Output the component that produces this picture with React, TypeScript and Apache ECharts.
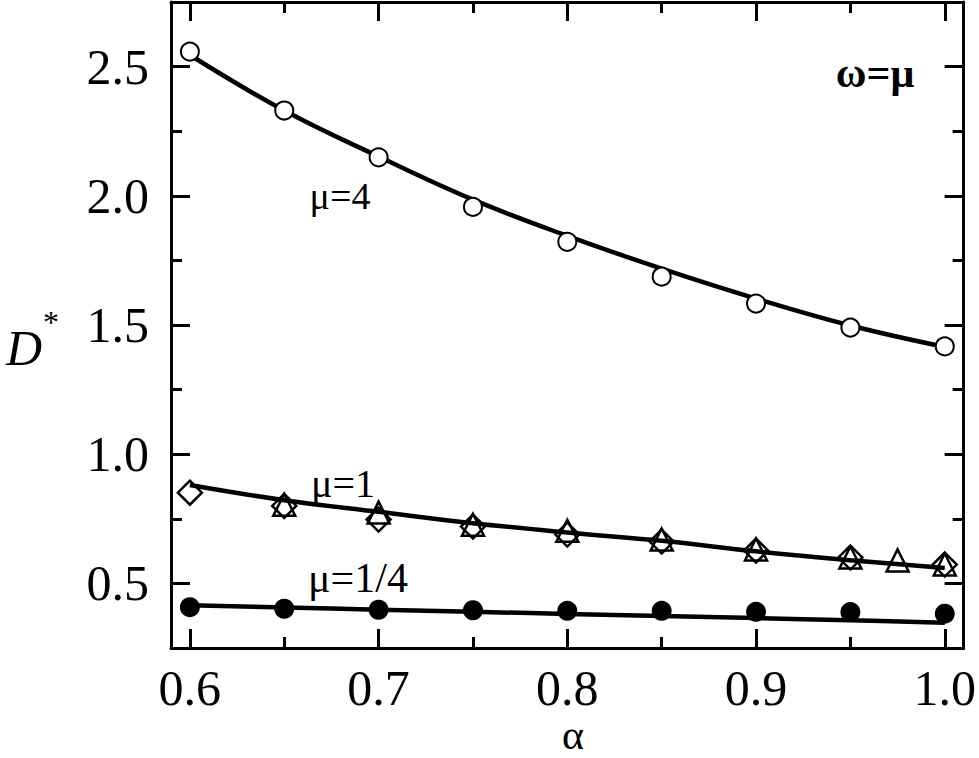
import React, { useEffect, useRef } from "react";
import * as echarts from "echarts";

const alpha = [0.6, 0.65, 0.7, 0.75, 0.8, 0.85, 0.9, 0.95, 1.0];

// mu = 4
const mu4Line = [2.545, 2.33, 2.152, 1.985, 1.845, 1.718, 1.602, 1.498, 1.415];
const mu4Pts = [2.558, 2.33, 2.149, 1.957, 1.822, 1.687, 1.583, 1.49, 1.417];

// mu = 1
const mu1Line = [0.881, 0.822, 0.777, 0.733, 0.697, 0.665, 0.624, 0.59, 0.56];
const mu1Diamond = [0.851, 0.8, 0.747, 0.72, 0.689, 0.662, 0.627, 0.6, 0.573];
const triAlpha = [0.65, 0.7, 0.75, 0.8, 0.85, 0.9, 0.95, 0.975, 1.0];
const mu1Triangle = [0.804, 0.774, 0.727, 0.704, 0.67, 0.631, 0.6, 0.589, 0.573];

// mu = 1/4
const mu14Line = [0.415, 0.407, 0.398, 0.39, 0.382, 0.374, 0.366, 0.357, 0.348];
const mu14Pts = [0.408, 0.402, 0.398, 0.396, 0.394, 0.394, 0.39, 0.389, 0.383];

const xMajor = [0.6, 0.7, 0.8, 0.9, 1.0];
const xMinor = [0.65, 0.75, 0.85, 0.95];
const yMajor = [0.5, 1.0, 1.5, 2.0, 2.5];
const yMinor = [0.75, 1.25, 1.75, 2.25];

const FONT = "'Liberation Serif', 'Times New Roman', serif";

function pairs(xs: number[], ys: number[]) {
  return xs.map((x, i) => [x, ys[i]]);
}

export default function App() {
  const ref = useRef<HTMLDivElement>(null);
  useEffect(() => {
    if (!ref.current) return;
    const chart = echarts.init(ref.current, undefined, { renderer: "svg" });
    const axisLineStyle = { color: "#000", width: 3 };
    const mkX = (pos: string, values: number[], len: number, showLine: boolean, showLabel: boolean) => ({
      type: "value",
      min: 0.59,
      max: 1.01,
      position: pos,
      axisLine: { show: showLine, onZero: false, lineStyle: axisLineStyle },
      axisTick: { show: true, inside: true, length: len, customValues: values, lineStyle: axisLineStyle },
      axisLabel: {
        show: showLabel,
        customValues: values,
        formatter: (v: number) => v.toFixed(1),
        fontSize: 50,
        lineHeight: 50,
        fontFamily: FONT,
        color: "#000",
        margin: 15,
      },
      splitLine: { show: false },
    });
    const mkY = (pos: string, values: number[], len: number, showLine: boolean, showLabel: boolean) => ({
      type: "value",
      min: 0.25,
      max: 2.75,
      position: pos,
      axisLine: { show: showLine, onZero: false, lineStyle: axisLineStyle },
      axisTick: { show: true, inside: true, length: len, customValues: values, lineStyle: axisLineStyle },
      axisLabel: {
        show: showLabel,
        customValues: values,
        formatter: (v: number) => v.toFixed(1),
        fontSize: 50,
        fontFamily: FONT,
        color: "#000",
        margin: 22,
      },
      splitLine: { show: false },
    });
    const lineSeries = (data: number[][]) => ({
      type: "line",
      data,
      smooth: 0.4,
      showSymbol: false,
      symbol: "none",
      z: 2,
      lineStyle: { color: "#000", width: 4.5 },
      xAxisIndex: 0,
      yAxisIndex: 0,
    });
    const scatter = (data: number[][], symbol: string, size: number, fill: string, bw: number) => ({
      type: "scatter",
      data,
      symbol,
      symbolSize: size,
      z: 3,
      itemStyle: { color: fill, borderColor: "#000", borderWidth: bw, opacity: 1 },
      xAxisIndex: 0,
      yAxisIndex: 0,
    });
    const txt = (text: string, x: number, y: number, fontSize: number, extra: any = {}) => ({
      type: "text",
      x,
      y,
      style: {
        text,
        fontSize,
        fontFamily: FONT,
        fill: "#000",
        align: "center",
        verticalAlign: "middle",
        ...extra,
      },
    });
    chart.setOption({
      animation: false,
      backgroundColor: "#fff",
      grid: { left: 171, top: 2, width: 794, height: 646, containLabel: false },
      xAxis: [
        mkX("bottom", xMajor, 19, true, true),
        mkX("bottom", xMinor, 11, false, false),
        mkX("top", xMajor, 19, true, false),
        mkX("top", xMinor, 11, false, false),
      ],
      yAxis: [
        mkY("left", yMajor, 19, true, true),
        mkY("left", yMinor, 11, false, false),
        mkY("right", yMajor, 19, true, false),
        mkY("right", yMinor, 11, false, false),
      ],
      series: [
        lineSeries(pairs(alpha, mu4Line)),
        lineSeries(pairs(alpha, mu1Line)),
        lineSeries(pairs(alpha, mu14Line)),
        scatter(pairs(alpha, mu4Pts), "circle", 18, "#fff", 2),
        scatter(pairs(alpha, mu1Diamond), "diamond", 24, "rgba(0,0,0,0)", 2.5),
        scatter(pairs(triAlpha, mu1Triangle), "triangle", 22, "rgba(0,0,0,0)", 2.5),
        scatter(pairs(alpha, mu14Pts), "circle", 20, "#000", 0),
      ],
      graphic: [
        txt("ω=μ", 875, 73, 42, { fontWeight: "bold" }),
        txt("μ=4", 340, 196, 38),
        txt("μ=1", 343, 483, 40),
        txt("μ=1/4", 358, 578, 42),
        txt("α", 573, 735, 42, { lineHeight: 40 }),
        txt("D", 24, 348, 50, { fontStyle: "italic" }),
        txt("*", 51, 322, 32),
      ],
    });
    return () => chart.dispose();
  }, []);
  return <div ref={ref} style={{ position: "absolute", left: 0, top: 0, width: 979, height: 758 }} />;
}
